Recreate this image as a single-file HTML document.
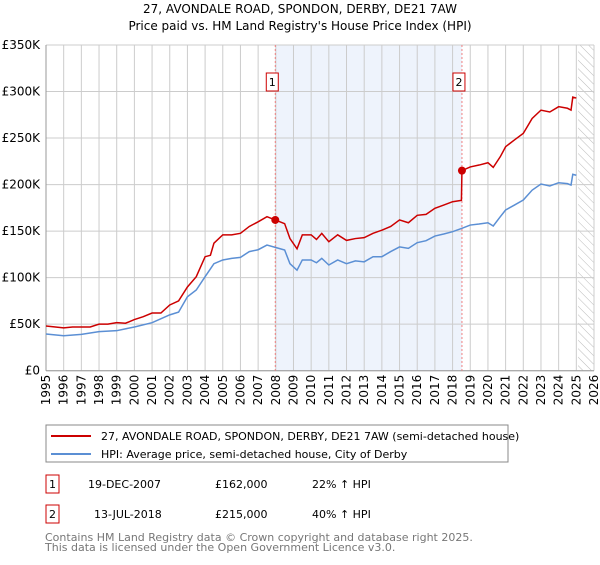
<!DOCTYPE html>
<html><head><meta charset="utf-8"><style>
body{margin:0;background:#fff;font-family:"Liberation Sans","DejaVu Sans",sans-serif;}
svg text{font-family:"DejaVu Sans","Liberation Sans",sans-serif;}
</style></head><body>
<svg id="c" width="600" height="560" xmlns="http://www.w3.org/2000/svg">
<defs><pattern id="hatch" width="6" height="6" patternUnits="userSpaceOnUse" patternTransform="rotate(-45)"><line x1="0" y1="0" x2="0" y2="6" stroke="#bbb" stroke-width="1"/></pattern></defs>
<text x="300" y="13" text-anchor="middle" font-size="12">27, AVONDALE ROAD, SPONDON, DERBY, DE21 7AW</text>
<text x="300" y="30" text-anchor="middle" font-size="12">Price paid vs. HM Land Registry's House Price Index (HPI)</text>
<g id="plot"></g>
<g>
<rect x="46" y="425" width="462" height="37" fill="#fff" stroke="#888"/>
<line x1="51" y1="436" x2="91" y2="436" stroke="#cc0000" stroke-width="2"/>
<text x="101" y="440" font-size="11">27, AVONDALE ROAD, SPONDON, DERBY, DE21 7AW (semi-detached house)</text>
<line x1="51" y1="454" x2="91" y2="454" stroke="#5b8fd4" stroke-width="2"/>
<text x="101" y="458" font-size="11">HPI: Average price, semi-detached house, City of Derby</text>
</g>
<g font-size="11">
<rect x="46" y="475" width="13" height="18" fill="#fff" stroke="#cc0000"/><text x="52.5" y="488" text-anchor="middle">1</text>
<text x="88" y="488">19-DEC-2007</text><text x="215" y="488">£162,000</text><text x="312" y="488">22% ↑ HPI</text>
<rect x="46" y="505" width="13" height="18" fill="#fff" stroke="#cc0000"/><text x="52.5" y="518" text-anchor="middle">2</text>
<text x="94" y="518">13-JUL-2018</text><text x="215" y="518">£215,000</text><text x="312" y="518">40% ↑ HPI</text>
</g>
<text x="45" y="541" font-size="11" fill="#777">Contains HM Land Registry data © Crown copyright and database right 2025.</text>
<text x="45" y="551" font-size="11" fill="#777">This data is licensed under the Open Government Licence v3.0.</text>
</svg>
<script>
const yTicks=[0,50,100,150,200,250,300,350];
const yTickLabels=["£0","£50K","£100K","£150K","£200K","£250K","£300K","£350K"];
const xYears=[1995,1996,1997,1998,1999,2000,2001,2002,2003,2004,2005,2006,2007,2008,2009,2010,2011,2012,2013,2014,2015,2016,2017,2018,2019,2020,2021,2022,2023,2024,2025,2026];
const redT=[1995,1996,1996.5,1997.5,1998,1998.5,1999,1999.5,2000,2000.5,2001,2001.5,2002,2002.5,2003,2003.5,2004,2004.3,2004.5,2005,2005.5,2006,2006.5,2007,2007.5,2007.97,2008.5,2008.8,2009.2,2009.5,2010,2010.3,2010.6,2011,2011.5,2012,2012.5,2013,2013.5,2014,2014.5,2015,2015.5,2016,2016.5,2017,2017.5,2018,2018.5,2018.53,2019,2019.5,2020,2020.3,2020.7,2021,2021.5,2022,2022.5,2023,2023.5,2024,2024.5,2024.7,2024.8,2025];
const redV=[48,46,47,47,50,50,51.6,51,55,58,62,62,70.6,75,90,101,122.5,124,137,146,146,147.6,155,160,165.5,162,158,142,131,146,146,141,147.6,138.6,146,140,142,143,147.6,151,155,162,159,167,168,174.5,178,181.6,183,215,219,221,223.5,218.5,230,240.7,248,255,271,280,278,283.7,282,280,294,293];
const hpiT=[1995,1996,1997,1998,1999,2000,2001,2002,2002.5,2003,2003.5,2004,2004.5,2005,2005.5,2006,2006.5,2007,2007.5,2007.97,2008.5,2008.8,2009.2,2009.5,2010,2010.3,2010.6,2011,2011.5,2012,2012.5,2013,2013.5,2014,2014.5,2015,2015.5,2016,2016.5,2017,2017.5,2018,2018.53,2019,2019.5,2020,2020.3,2020.7,2021,2021.5,2022,2022.5,2023,2023.5,2024,2024.5,2024.7,2024.8,2025];
const hpiV=[39.4,37.6,39,42,43,47,51.6,60,63,79.5,86.7,101,115,119,120.7,121.8,128,130,135,132.5,129.7,115,108,119,119,116,120.7,113.6,119,115,118,117,122.5,122.5,128,133,131.5,137.6,139.7,144.7,146.9,149.4,153,156.5,157.6,159,155.5,165.5,172.7,178,183.4,194,200.6,198.5,202,201,199.5,211,210];
const saleT=[2007.97,2018.53];
const saleV=[162,215];
const saleLabels=["1","2"];
const L=46,R=594,T=45,B=370.7;
const x=t=>L+(t-1995)/(2026-1995)*(R-L);
const y=v=>B-v/350*(B-T);
const NS="http://www.w3.org/2000/svg";
const g=document.getElementById('plot');
function mk(tag,at,parent){const e=document.createElementNS(NS,tag);for(const k in at)e.setAttribute(k,at[k]);(parent||g).appendChild(e);return e;}
// shaded region
let e=mk('rect',{x:x(saleT[0]),y:T,width:x(saleT[1])-x(saleT[0]),height:B-T,fill:'#eef3fc'});


e=mk('rect',{x:x(2025.1),y:T,width:R-x(2025.1),height:B-T,fill:'url(#hatch)'});


xYears.forEach(t=>{const l=mk('line',{x1:x(t),x2:x(t),y1:T,y2:B,stroke:'#ccc','stroke-width':1});


const tx=mk('text',{x:0,y:0,'font-size':12,'text-anchor':'end',transform:`translate(${x(t)+4},${B+4}) rotate(-90)`});
tx.textContent=t;

});
yTicks.forEach((v,i)=>{const l=mk('line',{x1:L,x2:R,y1:y(v),y2:y(v),stroke:'#ccc','stroke-width':1});


const tx=mk('text',{x:L-6,y:y(v)+4,'font-size':12,'text-anchor':'end'});
tx.textContent=yTickLabels[i];

});
e=mk('line',{x1:L,x2:L,y1:T,y2:B,stroke:'#999'});


e=mk('line',{x1:L,x2:R,y1:B,y2:B,stroke:'#999'});


saleT.forEach((t,i)=>{const l=mk('line',{x1:x(t),x2:x(t),y1:T,y2:B,stroke:'#f08080','stroke-dasharray':'2,2'});


const r=mk('rect',{x:x(t)-9,y:73,width:12,height:18,fill:'#fff',stroke:'#cc0000'});


const tx=mk('text',{x:x(t)-3,y:86,'font-size':11,'text-anchor':'middle'});tx.textContent=saleLabels[i];

});
e=mk('polyline',{points:hpiT.map((t,i)=>x(t)+','+y(hpiV[i])).join(' '),fill:'none',stroke:'#5b8fd4','stroke-width':1.5});


e=mk('polyline',{points:redT.map((t,i)=>x(t)+','+y(redV[i])).join(' '),fill:'none',stroke:'#cc0000','stroke-width':1.5});


saleT.forEach((t,i)=>{const c=mk('circle',{cx:x(t),cy:y(saleV[i]),r:4,fill:'#cc0000'});

});
</script>
</body></html>
